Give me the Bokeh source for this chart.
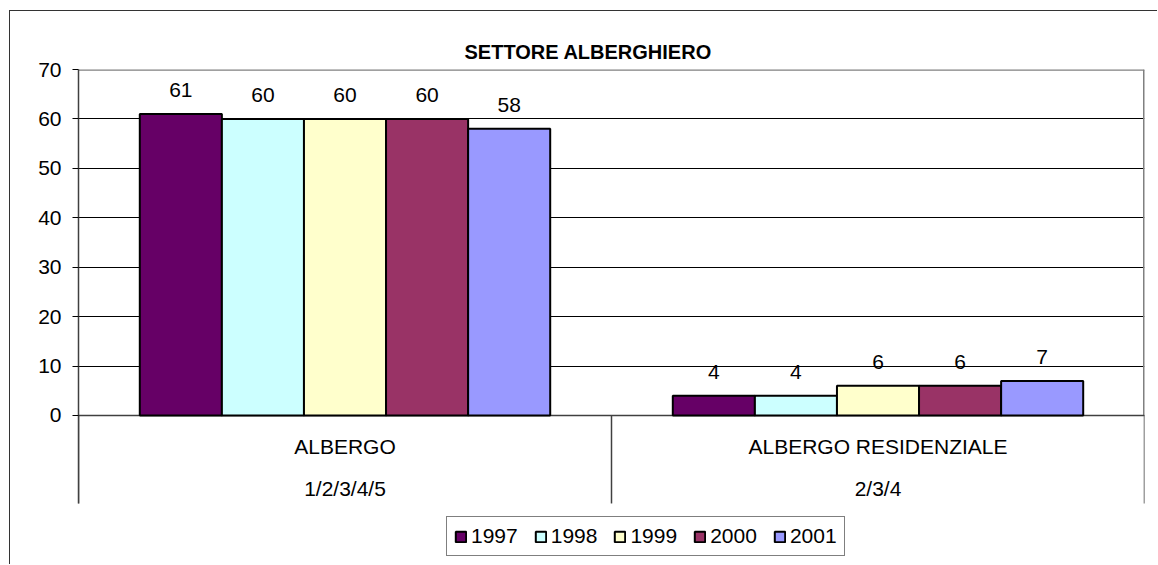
from bokeh.plotting import figure
from bokeh.models import (ColumnDataSource, FactorRange, Range1d, FixedTicker,
                          Legend, LegendItem)
from bokeh.transform import dodge
from bokeh.core.properties import value
from bokeh.embed import file_html
from bokeh.resources import INLINE

# ---------------- data ----------------
chart_title = "SETTORE ALBERGHIERO"
categories = ["ALBERGO", "ALBERGO RESIDENZIALE"]
sub_labels = ["1/2/3/4/5", "2/3/4"]
years = ["1997", "1998", "1999", "2000", "2001"]
v1997 = [61, 4]
v1998 = [60, 4]
v1999 = [60, 6]
v2000 = [60, 6]
v2001 = [58, 7]
y_ticks = [0, 10, 20, 30, 40, 50, 60, 70]
colors = ["#660066", "#CCFFFF", "#FFFFCC", "#993366", "#9999FF"]

series = [v1997, v1998, v1999, v2000, v2001]

# ---------------- layout constants ----------------
FONT = "Liberation Sans"
FS = "21px"
W, H = 1148, 554
y_top = 70
y_bottom = -30.35          # extends frame down to canvas bottom
sep_bottom = -17.8         # category separator lines end
bar_w = 0.154

data = dict(cat=categories, sub=sub_labels)
for yr, vals in zip(years, series):
    data[yr] = vals
    data[yr + "_lbl"] = [str(v) for v in vals]
src = ColumnDataSource(data)

p = figure(x_range=FactorRange(factors=categories, range_padding=0),
           y_range=Range1d(y_bottom, y_top),
           width=W, height=H, output_backend="svg", toolbar_location=None,
           x_axis_type=None,
           min_border_left=68, min_border_right=14, min_border_top=58,
           min_border_bottom=0)
p.styles = {"border-left": "1px solid #333333", "border-top": "1px solid #333333",
            "margin-left": "9px", "margin-top": "10px"}
p.outline_line_color = None
p.background_fill_color = "white"
p.border_fill_color = "white"

# title
p.title.text = chart_title
p.title.align = "left"
p.title.offset = 386
p.title.standoff = 13
p.title.text_font = FONT
p.title.text_font_size = "20px"
p.title.text_font_style = "bold"
p.title.text_color = "black"

# y axis
p.yaxis.ticker = FixedTicker(ticks=y_ticks)
p.yaxis.bounds = (sep_bottom, y_top)
p.yaxis.major_tick_out = 6
p.yaxis.major_tick_in = 0
p.yaxis.minor_tick_line_color = None
p.yaxis.major_tick_line_color = "black"
p.yaxis.axis_line_color = "#404040"
p.yaxis.axis_line_width = 1.5
p.yaxis.major_label_text_font = FONT
p.yaxis.major_label_text_font_size = FS
p.yaxis.major_label_text_color = "black"
p.yaxis.major_label_standoff = 11
p.ygrid.grid_line_color = "black"
p.ygrid.grid_line_width = 1

# plot-area border (top / right) and category separators
ncat = len(categories)
p.segment(x0=[0], y0=[y_top], x1=[ncat], y1=[y_top], line_color="#808080", line_width=2.5)
p.segment(x0=[ncat], y0=[0], x1=[ncat], y1=[y_top], line_color="#808080", line_width=3)
bounds = list(range(ncat + 1))
p.segment(x0=bounds, y0=[0] * len(bounds), x1=bounds, y1=[sep_bottom] * len(bounds),
          line_color="#404040", line_width=1.5)
p.segment(x0=[0], y0=[0], x1=[ncat], y1=[0], line_color="#404040", line_width=1.5)

# bars + labels
items = []
n = len(years)
for i, yr in enumerate(years):
    off = (i - (n - 1) / 2) * bar_w
    r = p.vbar(x=dodge("cat", off, range=p.x_range), top=yr, width=bar_w, bottom=0,
               source=src, fill_color=colors[i], line_color="black", line_width=2)
    p.text(x=dodge("cat", off, range=p.x_range), y=yr, text=yr + "_lbl", source=src,
           text_align="center", text_baseline="alphabetic", y_offset=-24,
           text_font=value(FONT), text_font_size=FS, text_color="black")
    items.append(LegendItem(label=yr, renderers=[r]))

# category labels (two levels)
p.text(x="cat", y=-6.27, text="cat", source=src, text_align="center",
       text_baseline="middle", text_font=value(FONT), text_font_size=FS,
       text_color="black")
p.text(x="cat", y=-14.77, text="sub", source=src, text_align="center",
       text_baseline="middle", text_font=value(FONT), text_font_size=FS,
       text_color="black")

legend = Legend(items=items, orientation="horizontal", location=(368, 9),
                border_line_color="black", border_line_width=1, padding=7,
                spacing=16, glyph_width=13, glyph_height=13, label_standoff=4,
                label_text_font=FONT, label_text_font_size=FS,
                label_text_color="black", margin=0, background_fill_color="white",
                background_fill_alpha=1)
p.add_layout(legend)

open("out.html", "w").write(file_html(p, INLINE))
